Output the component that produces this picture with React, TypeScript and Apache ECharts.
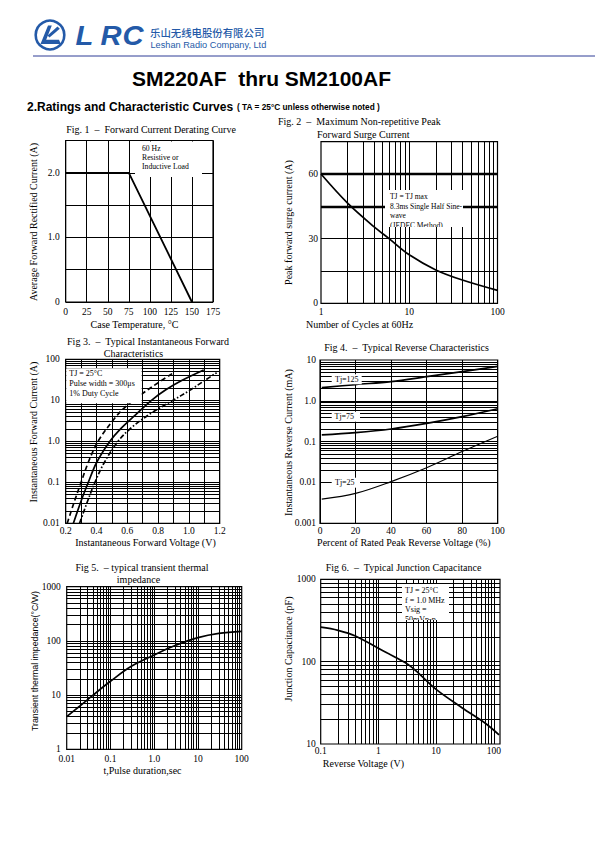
import React, { useEffect, useRef } from "react";
import * as echarts from "echarts";

const SERIF = "'Liberation Serif', 'Times New Roman', serif";
const SANS = "'Liberation Sans', Arial, sans-serif";
const CJK = "'Noto Sans CJK SC', sans-serif";
const BLUE = "#245aa8";

// ---------- Fig 1: Forward current derating ----------
const fig1Temp = [0, 75, 150];
const fig1Current = [2.0, 2.0, 0];
const fig1XTicks = [0, 25, 50, 75, 100, 125, 150, 175];
const fig1XLabels = ["0", "25", "50", "75", "100", "125", "150", "175"];
const fig1YTicks = [0, 1, 2];
const fig1YLabels = ["0", "1.0", "2.0"];

// ---------- Fig 2: Peak forward surge current ----------
const fig2Cycles = [1, 2, 4, 6, 10, 20, 40, 100];
const fig2Surge = [60, 46.5, 35.5, 29.8, 22.5, 15.5, 10.8, 6];
const fig2XTicks = [1, 10, 100];
const fig2XLabels = ["1", "10", "100"];
const fig2YTicks = [0, 30, 60];
const fig2YLabels = ["0", "30", "60"];
const fig2BoldLines = [60, 45];

// ---------- Fig 3: Instantaneous forward characteristics ----------
const fig3LowV = [0.21, 0.255, 0.3, 0.35, 0.41, 0.5, 0.57, 0.64, 0.75, 0.9];
const fig3LowI = [0.01, 0.033, 0.1, 0.33, 1.0, 3.0, 6, 10, 20, 47];
const fig3TypV = [0.25, 0.3, 0.347, 0.4, 0.487, 0.55, 0.65, 0.757, 0.85, 0.95, 1.096];
const fig3TypI = [0.01, 0.035, 0.1, 0.3, 1.0, 1.9, 4.3, 10, 18, 30, 55];
const fig3HighV = [0.29, 0.34, 0.39, 0.45, 0.54, 0.63, 0.76, 0.897, 1.0, 1.1, 1.18];
const fig3HighI = [0.01, 0.033, 0.1, 0.3, 1.0, 2.2, 5, 10, 17, 30, 47];
const fig3XTicks = [0.2, 0.4, 0.6, 0.8, 1.0, 1.2];
const fig3XLabels = ["0.2", "0.4", "0.6", "0.8", "1.0", "1.2"];
const fig3YTicks = [0.01, 0.1, 1, 10, 100];
const fig3YLabels = ["0.01", "0.1", "1.0", "10", "100"];

// ---------- Fig 4: Reverse characteristics ----------
const fig4Percent = [1, 20, 40, 60, 80, 100];
const fig4Tj125 = [2.1, 2.5, 2.95, 3.9, 5.2, 7.0];
const fig4Tj75 = [0.146, 0.166, 0.204, 0.28, 0.41, 0.64];
const fig4Tj25 = [0.0039, 0.0054, 0.0105, 0.023, 0.057, 0.135];
const fig4XTicks = [0, 20, 40, 60, 80, 100];
const fig4XLabels = ["0", "20", "40", "60", "80", "100"];
const fig4YTicks = [0.001, 0.01, 0.1, 1, 10];
const fig4YLabels = ["0.001", "0.01", "0.1", "1.0", "10"];

// ---------- Fig 5: Transient thermal impedance ----------
const fig5Time = [0.01, 0.02, 0.04, 0.1, 0.3, 1, 3, 10, 30, 100];
const fig5Imp = [4, 6.3, 10, 18, 34, 55, 82, 115, 138, 150];
const fig5XTicks = [0.01, 0.1, 1, 10, 100];
const fig5XLabels = ["0.01", "0.1", "1.0", "10", "100"];
const fig5YTicks = [1, 10, 100, 1000];
const fig5YLabels = ["1", "10", "100", "1000"];

// ---------- Fig 6: Junction capacitance ----------
const fig6Volt = [0.1, 0.2, 0.4, 1, 2, 3.3, 5, 10, 28, 75, 123];
const fig6Cap = [262, 240, 205, 145, 112, 92, 72, 46, 27.6, 17.4, 12.9];
const fig6XTicks = [0.1, 1, 10, 100];
const fig6XLabels = ["0.1", "1", "10", "100"];
const fig6YTicks = [10, 100, 1000];
const fig6YLabels = ["10", "100", "1000"];

const zip = (xs: number[], ys: number[]) => xs.map((x, i) => [x, ys[i]]);

function tickFmt(vals: number[], labels: string[]) {
  return (v: number) => {
    const i = vals.findIndex((t) => Math.abs(t - v) <= Math.max(Math.abs(t) * 1e-6, 1e-9));
    return i >= 0 ? labels[i] : "";
  };
}

// log-paper grid line values (1..9 per decade), borders excluded
function logLines(lo: number, hi: number) {
  const out: number[] = [];
  for (let e = Math.floor(Math.log10(lo)); e <= Math.ceil(Math.log10(hi)); e++) {
    for (let k = 1; k <= 9; k++) {
      const v = Number((k * Math.pow(10, e)).toPrecision(6));
      if (v > lo * 1.0001 && v < hi * 0.9999) out.push(v);
    }
  }
  return out;
}

function gridMarks(h: number[], v: number[], extra: any[] = []) {
  return {
    silent: true,
    symbol: ["none", "none"],
    label: { show: false },
    emphasis: { disabled: true },
    lineStyle: { color: "#000", width: 1, type: "solid" },
    data: [...h.map((y) => ({ yAxis: y })), ...v.map((x) => ({ xAxis: x })), ...extra],
  };
}

function axis(
  gridIndex: number,
  type: "value" | "log",
  min: number,
  max: number,
  margin: number,
  fmt: (v: number) => string,
  interval?: number,
  split = false
) {
  const a: any = {
    type,
    gridIndex,
    min,
    max,
    axisLine: { show: false },
    axisTick: { show: false },
    splitLine: { show: split, lineStyle: { color: "#000", width: 1 } },
    axisLabel: { color: "#000", fontFamily: SERIF, fontSize: 9.5, margin, formatter: fmt },
  };
  if (type === "log") a.logBase = 10;
  if (interval !== undefined) a.interval = interval;
  return a;
}

function curve(xi: number, data: number[][], opts: any = {}) {
  return {
    type: "line",
    xAxisIndex: xi,
    yAxisIndex: xi,
    data,
    symbol: "none",
    showSymbol: false,
    smooth: opts.smooth ?? 0.35,
    silent: true,
    z: 3,
    lineStyle: { color: "#000", width: opts.width ?? 1.7, type: opts.type ?? "solid" },
    markLine: opts.markLine,
  };
}

function T(x: number, y: number, text: string, o: any = {}) {
  return {
    type: "text",
    x,
    y,
    z: 101,
    silent: true,
    rotation: o.rot ?? 0,
    scaleX: o.sx ?? 1,
    style: {
      text,
      fill: o.fill ?? "#000",
      fontSize: o.size ?? 10,
      fontFamily: o.family ?? SERIF,
      fontWeight: o.weight ?? "normal",
      fontStyle: o.style ?? "normal",
      align: o.align ?? "center",
      verticalAlign: "middle",
    },
  };
}

function R(x: number, y: number, w: number, h: number) {
  return { type: "rect", z: 100, silent: true, shape: { x, y, width: w, height: h }, style: { fill: "#fff" } };
}

function buildOption() {
  const grids = [
    { left: 65.7, top: 140.5, width: 147.3, height: 161.5 },
    { left: 321, top: 141.7, width: 176.5, height: 161.6 },
    { left: 65.7, top: 359.3, width: 154, height: 164 },
    { left: 320, top: 360, width: 177.7, height: 163.3 },
    { left: 66.7, top: 586.7, width: 175, height: 162.6 },
    { left: 320.7, top: 579.3, width: 179.3, height: 164.7 },
  ].map((g) => ({
    ...g,
    containLabel: false,
    show: true,
    borderColor: "#000",
    borderWidth: 1.2,
    backgroundColor: "transparent",
  }));

  const xAxis = [
    axis(0, "value", 0, 175, 5, tickFmt(fig1XTicks, fig1XLabels), 25, true),
    axis(1, "log", 1, 100, 4, tickFmt(fig2XTicks, fig2XLabels)),
    axis(2, "value", 0.2, 1.2, 3, tickFmt(fig3XTicks, fig3XLabels), 0.1, true),
    axis(3, "value", 0, 100, 3, tickFmt(fig4XTicks, fig4XLabels), 20, true),
    axis(4, "log", 0.01, 100, 5, tickFmt(fig5XTicks, fig5XLabels)),
    axis(5, "log", 0.1, 128, 2, tickFmt(fig6XTicks, fig6XLabels)),
  ];
  const yAxis = [
    axis(0, "value", 0, 2.5, 6, tickFmt(fig1YTicks, fig1YLabels), 0.5, true),
    axis(1, "value", 0, 75, 3, tickFmt(fig2YTicks, fig2YLabels), 15, true),
    axis(2, "log", 0.01, 100, 6, tickFmt(fig3YTicks, fig3YLabels)),
    axis(3, "log", 0.001, 10, 4, tickFmt(fig4YTicks, fig4YLabels)),
    axis(4, "log", 1, 1000, 6, tickFmt(fig5YTicks, fig5YLabels)),
    axis(5, "log", 10, 1000, 5, tickFmt(fig6YTicks, fig6YLabels)),
  ];

  const series = [
    curve(0, zip(fig1Temp, fig1Current), { smooth: false, width: 1.8 }),
    curve(1, zip(fig2Cycles, fig2Surge), {
      markLine: gridMarks(
        [],
        logLines(1, 100),
        fig2BoldLines.map((v) => ({ yAxis: v, lineStyle: { width: 2.4, color: "#000", type: "solid" } }))
      ),
    }),
    curve(2, zip(fig3TypV, fig3TypI), { markLine: gridMarks(logLines(0.01, 100), []) }),
    curve(2, zip(fig3LowV, fig3LowI), { type: [5, 3] }),
    curve(2, zip(fig3HighV, fig3HighI), { type: [5, 2, 1.5, 2] }),
    curve(3, zip(fig4Percent, fig4Tj125), { markLine: gridMarks(logLines(0.001, 10), []) }),
    curve(3, zip(fig4Percent, fig4Tj75)),
    curve(3, zip(fig4Percent, fig4Tj25), { width: 1.1 }),
    curve(4, zip(fig5Time, fig5Imp), { markLine: gridMarks(logLines(1, 1000), logLines(0.01, 100)) }),
    curve(5, zip(fig6Volt, fig6Cap), { markLine: gridMarks(logLines(10, 1000), logLines(0.1, 128)) }),
  ];

  const logo = { align: "left", size: 27, weight: "bold", style: "italic", family: SANS, fill: BLUE, sx: 1.08 };
  const elements: any[] = [
    // ---- header ----
    { type: "circle", z: 100, silent: true, shape: { cx: 50, cy: 35, r: 14.3 }, style: { fill: "none", stroke: BLUE, lineWidth: 2.6 } },
    {
      type: "polygon",
      z: 100,
      silent: true,
      shape: { points: [[40.5, 44], [48, 25.5], [51.8, 25.5], [46.2, 39.8], [59, 39.8], [60.8, 44]] },
      style: { fill: BLUE },
    },
    {
      type: "polygon",
      z: 100,
      silent: true,
      shape: { points: [[47.5, 35.5], [57.5, 26.5], [59.8, 28.8], [49.5, 37.5]] },
      style: { fill: BLUE },
    },
    T(75.5, 35.5, "L", logo),
    T(100.5, 35.5, "R", logo),
    T(122.5, 35.5, "C", logo),
    T(150, 32.6, "乐山无线电股份有限公司", { align: "left", size: 10.4, family: CJK, fill: BLUE, weight: 500 }),
    T(150.5, 44.8, "Leshan Radio Company, Ltd", { align: "left", size: 9.2, family: SANS, fill: BLUE }),
    { type: "line", z: 100, silent: true, shape: { x1: 33, y1: 56, x2: 595, y2: 56 }, style: { stroke: "#2e3c96", lineWidth: 1 } },
    T(261.5, 78.3, "SM220AF  thru SM2100AF", { size: 21, weight: "bold", family: SANS }),
    T(27, 106.7, "2.Ratings and Characteristic Curves", { align: "left", size: 12, weight: "bold", family: SANS }),
    T(237, 107.3, "( TA = 25°C unless otherwise noted )", { align: "left", size: 8.3, weight: "bold", family: SANS }),

    // ---- Fig 1 ----
    T(151, 129.5, "Fig. 1  –  Forward Current Derating Curve"),
    T(33, 222, "Average Forward Rectified Current (A)", { rot: Math.PI / 2 }),
    T(134.5, 324, "Case Temperature, °C"),
    R(135, 141.5, 67, 35.5),
    T(142, 148.5, "60 Hz", { align: "left", size: 7.7 }),
    T(142, 157.5, "Resistive or", { align: "left", size: 7.7 }),
    T(142, 166.5, "Inductive Load", { align: "left", size: 7.7 }),

    // ---- Fig 2 ----
    T(278, 121.5, "Fig. 2  –  Maximum Non-repetitive Peak", { align: "left" }),
    T(317, 134, "Forward Surge Current", { align: "left" }),
    T(288.5, 222.5, "Peak forward surge current (A)", { rot: Math.PI / 2 }),
    T(359.5, 324, "Number of Cycles at 60Hz"),

    // ---- Fig 3 ----
    T(148, 341, "Fig 3.  –  Typical Instantaneous Forward"),
    T(133.5, 353, "Characteristics"),
    T(33, 432, "Instantaneous Forward Current (A)", { rot: Math.PI / 2 }),
    T(145.5, 542.5, "Instantaneous Forward Voltage (V)"),
    R(66.3, 368.3, 75.4, 35),
    T(69.3, 373.3, "TJ = 25°C", { align: "left", size: 8 }),
    T(69.3, 383.3, "Pulse width = 300μs", { align: "left", size: 8 }),
    T(69.3, 393.3, "1% Duty Cycle", { align: "left", size: 8 }),

    // ---- Fig 4 ----
    T(406.5, 347.5, "Fig 4.  –  Typical Reverse Characteristics"),
    T(288, 442.5, "Instantaneous Reverse Current (mA)", { rot: Math.PI / 2 }),
    T(403.8, 542.5, "Percent of Rated Peak Reverse Voltage (%)"),
    R(331.7, 374.3, 30, 10),
    T(335, 379.3, "Tj=125", { align: "left", size: 8 }),
    R(331.7, 411.7, 28.3, 10),
    T(334.5, 416.7, "Tj=75", { align: "left", size: 8 }),
    R(331.7, 477.7, 28.3, 10),
    T(335, 482.7, "Tj=25", { align: "left", size: 8 }),

    // ---- Fig 5 ----
    T(142, 567, "Fig 5.  – typical transient thermal"),
    T(138.5, 579.3, "impedance"),
    T(35, 661, "Transient thermal impedance(°C/W)", { rot: Math.PI / 2, size: 8.8, family: SANS }),
    T(142.5, 770, "t,Pulse duration,sec"),

    // ---- Fig 6 ----
    T(403.5, 567.5, "Fig 6.  –  Typical Junction Capacitance"),
    T(288, 649, "Junction Capacitance (pF)", { rot: Math.PI / 2 }),
    T(363.5, 763.3, "Reverse Voltage (V)"),
  ];

  return {
    animation: false,
    backgroundColor: "#fff",
    textStyle: { fontFamily: SERIF },
    grid: grids,
    xAxis,
    yAxis,
    series,
    graphic: { elements },
  };
}

const boxBase: React.CSSProperties = {
  position: "absolute",
  background: "#fff",
  overflow: "hidden",
  fontFamily: SERIF,
  color: "#000",
  whiteSpace: "nowrap",
  boxSizing: "border-box",
  zIndex: 2,
};

export default function App() {
  const ref = useRef<HTMLDivElement>(null);
  useEffect(() => {
    if (!ref.current) return;
    const chart = echarts.init(ref.current, undefined, { renderer: "svg", width: 595, height: 842 });
    chart.setOption(buildOption() as any);
    return () => chart.dispose();
  }, []);
  return (
    <div style={{ position: "absolute", left: 0, top: 0, width: 595, height: 842, background: "#fff", overflow: "hidden" }}>
      <div ref={ref} style={{ position: "absolute", left: 0, top: 0, width: 595, height: 842 }} />
      <div
        style={{
          ...boxBase,
          left: 385,
          top: 190,
          width: 78,
          height: 37,
          paddingLeft: 5,
          paddingTop: 2,
          fontSize: "7.5px",
          lineHeight: "9.6px",
        }}
      >
        <div>TJ = TJ max</div>
        <div>8.3ms Single Half Sine-</div>
        <div>wave</div>
        <div>(JEDEC Method)</div>
      </div>
      <div
        style={{
          ...boxBase,
          left: 402,
          top: 584,
          width: 47,
          height: 36,
          paddingLeft: 3,
          paddingTop: 2.2,
          fontSize: "8px",
          lineHeight: "9.5px",
        }}
      >
        <div>TJ = 25°C</div>
        <div>f = 1.0 MHz</div>
        <div>Vsig =</div>
        <div>50mVp-p</div>
      </div>
    </div>
  );
}
